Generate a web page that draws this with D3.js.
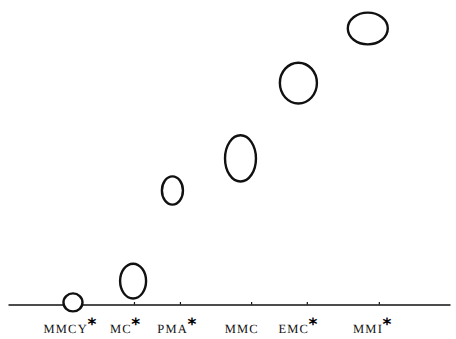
<!DOCTYPE html>
<html>
<head>
<meta charset="utf-8">
<script src="https://cdn.jsdelivr.net/npm/d3@7"></script>
<style>
  html, body { margin: 0; padding: 0; background: #fff; }
  svg { display: block; }
</style>
</head>
<body>
<div id="chart"></div>
<script>
// ---- data (chart units) ----
const categories = ["MMCY", "MC", "PMA", "MMC", "EMC", "MMI"];
const starred    = [true, true, true, false, true, true];
const labelX     = [14.0, 26.5, 38.2, 52.9, 65.6, 82.4];   // category label positions on x axis
const xValues    = [14.7, 28.3, 37.2, 52.6, 65.7, 81.4];   // ellipse centres (x)
const yValues    = [0.07, 0.78, 3.80, 4.87, 7.38, 9.20];   // ellipse centres (y)
const xSpread    = [2.15, 2.94, 2.38, 3.50, 4.19, 4.52];   // half-width of ellipse (x units)
const ySpread    = [0.30, 0.58, 0.47, 0.77, 0.68, 0.53];   // half-height of ellipse (y units)
const tickValues = [28.5, 38.9, 55.0, 67.6, 83.9];          // small axis marks

const W = 456, H = 339;
const svg = d3.select("#chart").append("svg").attr("width", W).attr("height", H);

const x = d3.scaleLinear().domain([0, 100]).range([8, 450]);
const y = d3.scaleLinear().domain([0, 10]).range([304.5, 4.5]);

// axis
const axis = d3.axisBottom(x)
  .tickValues(tickValues)
  .tickSizeInner(-2.5)
  .tickSizeOuter(0)
  .tickFormat("");
const gAxis = svg.append("g").attr("transform", `translate(0,${y(0)})`).call(axis);
gAxis.select(".domain").attr("stroke", "#111").attr("stroke-width", 1.6);
gAxis.selectAll(".tick line").attr("stroke", "#111").attr("stroke-width", 1.2);

// ellipses
const pts = categories.map((c, i) => ({c, x: xValues[i], y: yValues[i], sx: xSpread[i], sy: ySpread[i]}));
svg.append("g").selectAll("ellipse").data(pts).join("ellipse")
  .attr("cx", d => x(d.x))
  .attr("cy", d => y(d.y))
  .attr("rx", d => x(d.sx) - x(0))
  .attr("ry", d => y(0) - y(d.sy))
  .attr("fill", "#fff")
  .attr("stroke", "#111")
  .attr("stroke-width", 2.4);

// labels
const labels = svg.append("g").selectAll("text").data(categories).join("text")
  .attr("x", (d, i) => x(labelX[i]))
  .attr("y", 333)
  .attr("text-anchor", "middle")
  .attr("font-family", "'Liberation Serif', 'DejaVu Serif', serif")
  .attr("font-size", 12.5)
  .attr("fill", "#111")
  .style("text-rendering", "geometricPrecision");
labels.append("tspan").attr("letter-spacing", 1.2).text(d => d);
labels.filter((d, i) => starred[i]).append("tspan")
  .attr("dx", -0.5)
  .attr("dy", -3)
  .attr("font-family", "'DejaVu Sans', sans-serif")
  .attr("font-size", 17)
  .attr("font-weight", "bold")
  .attr("fill", "#000")
  .text("*");
</script>
</body>
</html>
